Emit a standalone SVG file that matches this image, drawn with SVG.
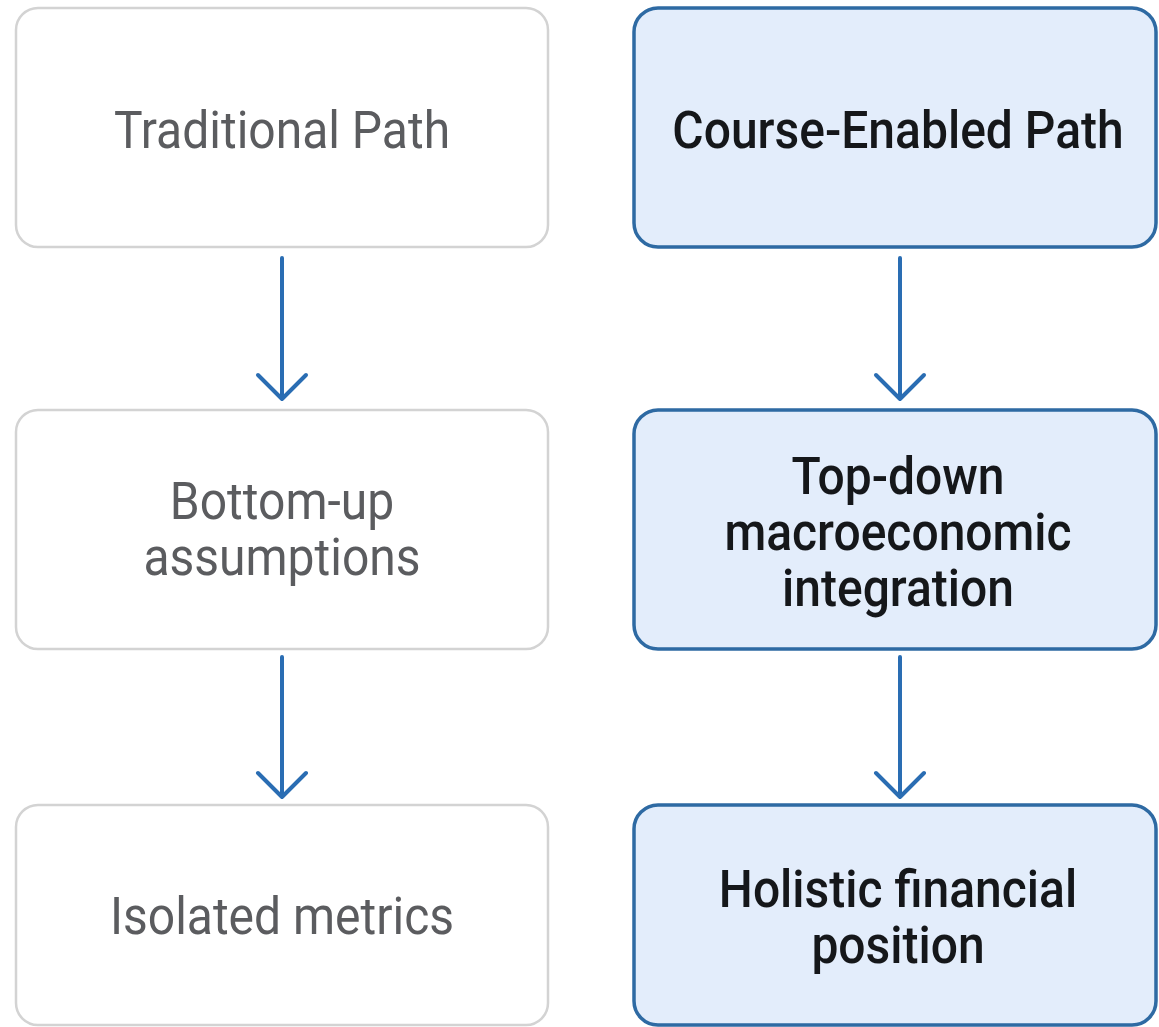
<svg xmlns="http://www.w3.org/2000/svg" width="1159" height="1027" viewBox="0 0 1159 1027">
<style>
.plain rect{fill:#ffffff;stroke:#d3d3d3;stroke-width:2.5}
.hi rect{fill:#e3edfb;stroke:#2e6aa3;stroke-width:3.5}
.plain text{font-family:Roboto,"Liberation Sans",sans-serif;font-size:48px;fill:#5b5c5f;text-anchor:middle}
.hi text{font-family:Roboto,"Liberation Sans",sans-serif;font-size:48px;font-weight:500;fill:#15171a;text-anchor:middle}
#connectors path{fill:none;stroke:#2a6db3;stroke-width:4;stroke-linecap:round;stroke-linejoin:round}
</style>
<rect width="1159" height="1027" fill="#ffffff"/>
<g id="connectors">
<path d="M282 258V399M258 375L282 399L306 375"/>
<path d="M282 657V797M258 773L282 797L306 773"/>
<path d="M900 258V399M876 375L900 399L924 375"/>
<path d="M900 657V797M876 773L900 797L924 773"/>
</g>
<g id="n1" class="plain">
<rect x="16" y="8" width="532" height="239" rx="22"/>
<g transform="translate(282,148) scale(1,1.08)"><text x="0" y="0">Traditional Path</text></g>
</g>
<g id="n2" class="plain">
<rect x="16" y="410" width="532" height="239" rx="22"/>
<g transform="translate(282,519) scale(1,1.08)"><text x="0" y="0">Bottom-up<tspan x="0" dy="52">assumptions</tspan></text></g>
</g>
<g id="n3" class="plain">
<rect x="16" y="805" width="532" height="220" rx="22"/>
<g transform="translate(282,934) scale(1,1.08)"><text x="0" y="0">Isolated metrics</text></g>
</g>
<g id="n4" class="hi">
<rect x="634" y="8" width="522" height="239" rx="24"/>
<g transform="translate(898,148) scale(1,1.08)"><text x="0" y="0">Course-Enabled Path</text></g>
</g>
<g id="n5" class="hi">
<rect x="634" y="410" width="522" height="239" rx="24"/>
<g transform="translate(898,494) scale(1,1.08)"><text x="0" y="0">Top-down<tspan x="0" dy="52">macroeconomic</tspan><tspan x="0" dy="52">integration</tspan></text></g>
</g>
<g id="n6" class="hi">
<rect x="634" y="805" width="522" height="220" rx="24"/>
<g transform="translate(898,907) scale(1,1.08)"><text x="0" y="0">Holistic financial<tspan x="0" dy="52">position</tspan></text></g>
</g>
</svg>
